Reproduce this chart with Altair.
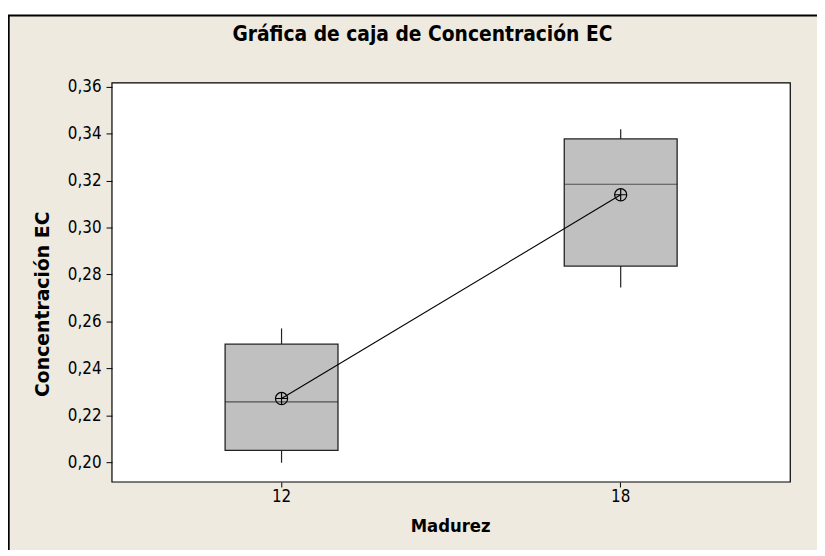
import altair as alt
import pandas as pd

# ---- data ----
madurez = ["12", "18"]
q1 = [0.2050, 0.2836]
mediana = [0.2257, 0.3185]
q3 = [0.2503, 0.3378]
bigote_bajo = [0.1997, 0.2745]
bigote_alto = [0.2570, 0.3420]
media = [0.2271, 0.3140]
y_ticks = [0.20, 0.22, 0.24, 0.26, 0.28, 0.30, 0.32, 0.34, 0.36]

df = pd.DataFrame({
    "Madurez": madurez, "q1": q1, "med": mediana, "q3": q3,
    "lo": bigote_bajo, "hi": bigote_alto, "mean": media,
})
one = pd.DataFrame({"a": [0]})

W, H = 685, 403
FONT = "DejaVu Sans Condensed, DejaVu Sans"
WIDEFONT = "DejaVu Sans"
BEIGE = "#eeeae0"
DARK = "#222222"

yscale = alt.Scale(domain=[0.1915, 0.3617], nice=False, zero=False)
yaxis = alt.Axis(
    values=y_ticks,
    labelExpr="replace(format(datum.value, '.2f'), '.', ',')",
    tickSize=6, tickColor="black", tickWidth=1,
    labelFont=FONT, labelFontSize=17, labelColor="black", labelPadding=5,
    domain=False, grid=False,
    title="Concentración EC", titleFont=WIDEFONT, titleFontSize=19,
    titleFontWeight="bold", titleColor="black",
    titleX=-70, titleY=223, titleAngle=270, titleAlign="center",
    titleBaseline="middle", zindex=1,
)
xscale = alt.Scale(paddingInner=0, paddingOuter=0)
xaxis = alt.Axis(
    labelAngle=0, tickSize=5, tickColor="black", tickWidth=1,
    labelFont=FONT, labelFontSize=17, labelColor="black", labelPadding=2,
    domain=False, grid=False,
    title="Madurez", titleFont=FONT, titleFontSize=18.5, titleFontWeight="bold",
    titleColor="black", titleX=W / 2 - 1, titleY=43.5, titleAlign="center",
    titleBaseline="middle", zindex=1,
)

X = alt.X("Madurez:N", scale=xscale, axis=xaxis, sort=madurez)

def Y(f):
    return alt.Y(f"{f}:Q", scale=yscale, axis=yaxis)

base = alt.Chart(df)

frame = alt.Chart(one).mark_rect(fill=BEIGE, stroke="black", strokeWidth=2).encode(
    x=alt.value(-104.3), x2=alt.value(W + 60), y=alt.value(-68), y2=alt.value(H + 120)
)
plot_bg = alt.Chart(one).mark_rect(fill="white", stroke="black", strokeWidth=1.2).encode(
    x=alt.value(0), x2=alt.value(W), y=alt.value(0), y2=alt.value(H)
)

wlow = base.mark_rule(color=DARK, strokeWidth=1.2).encode(x=X, y=Y("lo"), y2="q1:Q")
whigh = base.mark_rule(color=DARK, strokeWidth=1.2).encode(x=X, y=Y("q3"), y2="hi:Q")
boxes = base.mark_bar(size=114, color="#c0c0c0", stroke=DARK, strokeWidth=1.3).encode(
    x=X, y=Y("q1"), y2="q3:Q"
)
medians = base.mark_tick(size=114, thickness=1.2, color=DARK).encode(x=X, y=Y("med"))
meanline = base.mark_line(color="black", strokeWidth=1.1).encode(x=X, y=Y("mean"))
meancirc = base.mark_point(shape="circle", filled=False, size=150, color="black",
                           strokeWidth=1.2, opacity=1).encode(x=X, y=Y("mean"))
meanplus = base.mark_point(shape="M-1,0L1,0M0,-1L0,1", filled=False, size=150,
                           color="black", strokeWidth=1.2, opacity=1).encode(x=X, y=Y("mean"))

chart = alt.layer(
    frame, plot_bg, wlow, whigh, boxes, medians, meanline, meancirc, meanplus
).properties(
    width=W, height=H,
    padding={"left": 105, "top": 73, "right": 27, "bottom": 66},
    autosize=alt.AutoSizeParams(type="none"),
    background="white",
    title=alt.TitleParams(
        text="Gráfica de caja de Concentración EC", font=FONT, fontSize=21,
        fontWeight="bold", color="black", anchor="middle", frame="group",
        dx=-29, dy=48, offset=0, baseline="alphabetic", zindex=1,
    ),
).configure_view(stroke=None)

chart.save("out.html", embed_options={"renderer": "svg", "actions": False})
